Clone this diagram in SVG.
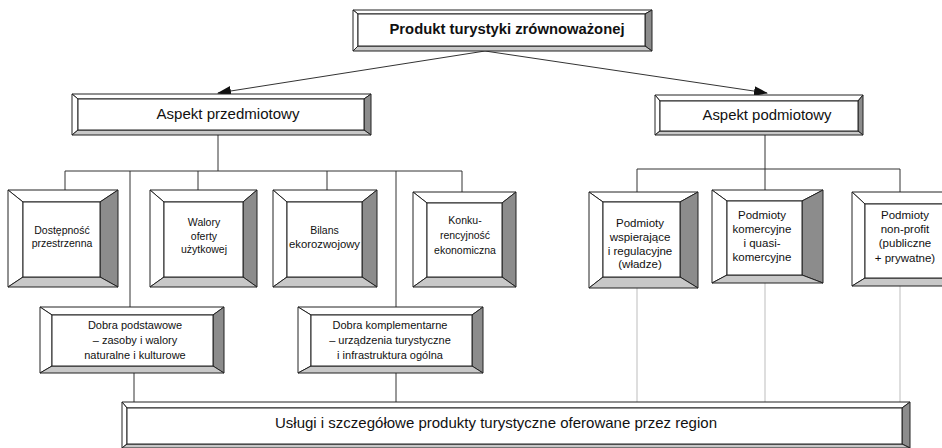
<svg xmlns="http://www.w3.org/2000/svg" width="942" height="448" viewBox="0 0 942 448">
<style>
.b polygon{stroke:#222;stroke-width:1;stroke-linejoin:miter}
.hl{fill:#fff}
.dk{fill:#8c8c8c}
.lt{fill:#c8c8c8}
.in{fill:#fff;stroke:#222;stroke-width:1}
text{font-family:"Liberation Sans",Arial,sans-serif;fill:#111;text-anchor:middle}
.s{font-size:11px}
.r{font-size:10.5px}
.m{font-size:11.5px}
.l{font-size:15px}
.t{font-size:14px;font-weight:bold}
.c line{stroke:#333;stroke-width:1}
.c line.g{stroke:#bdbdbd}
</style>
<defs>
<marker id="ah" markerWidth="14" markerHeight="10" refX="13" refY="5" orient="auto" markerUnits="userSpaceOnUse">
<path d="M0,0 L14,5 L0,10 Z" fill="#111"/>
</marker>
</defs>
<rect width="942" height="448" fill="#fff"/>

<g class="c" id="connectors">
<line x1="485" y1="51" x2="218" y2="93" marker-end="url(#ah)"/>
<line x1="485" y1="51" x2="767" y2="93" marker-end="url(#ah)"/>
<line x1="218" y1="135" x2="218" y2="171"/>
<line x1="65" y1="171" x2="462" y2="171"/>
<line x1="65" y1="171" x2="65" y2="190"/>
<line x1="130" y1="171" x2="130" y2="307"/>
<line x1="198" y1="171" x2="198" y2="190"/>
<line x1="327" y1="171" x2="327" y2="190"/>
<line x1="396" y1="171" x2="396" y2="307"/>
<line x1="462" y1="171" x2="462" y2="192"/>
<line x1="765" y1="135" x2="765" y2="169"/>
<line x1="637" y1="169" x2="900" y2="169"/>
<line x1="637" y1="169" x2="637" y2="192"/>
<line x1="765" y1="169" x2="765" y2="190"/>
<line x1="900" y1="169" x2="900" y2="192"/>
<line x1="134" y1="373" x2="134" y2="402"/>
<line x1="396" y1="373" x2="396" y2="402"/>
<line class="g" x1="637" y1="288" x2="637" y2="402"/>
<line class="g" x1="765" y1="283" x2="765" y2="402"/>
<line class="g" x1="900" y1="286" x2="900" y2="402"/>
</g>

<g id="top" class="b">
<polygon class="hl" points="353,10 652,10 645,14 358,14"/>
<polygon class="hl" points="353,10 358,14 358,46 353,51"/>
<polygon class="dk" points="652,10 652,51 645,46 645,14"/>
<polygon class="lt" points="353,51 358,46 645,46 652,51"/>
<rect class="in" x="358" y="14" width="287" height="32"/>
<text class="t" x="507" y="34" textLength="235" lengthAdjust="spacingAndGlyphs">Produkt turystyki zrównoważonej</text>
</g>

<g id="aspekt-przedmiotowy" class="b">
<polygon class="hl" points="72,94 371,94 364,99 78,99"/>
<polygon class="hl" points="72,94 78,99 78,130 72,135"/>
<polygon class="dk" points="371,94 371,135 364,130 364,99"/>
<polygon class="lt" points="72,135 78,130 364,130 371,135"/>
<rect class="in" x="78" y="99" width="286" height="31"/>
<text class="l" x="228" y="119" textLength="143" lengthAdjust="spacingAndGlyphs">Aspekt przedmiotowy</text>
</g>

<g id="aspekt-podmiotowy" class="b">
<polygon class="hl" points="655,95 863,95 858,101 660,101"/>
<polygon class="hl" points="655,95 660,101 660,131 655,135"/>
<polygon class="dk" points="863,95 863,135 858,131 858,101"/>
<polygon class="lt" points="655,135 660,131 858,131 863,135"/>
<rect class="in" x="660" y="101" width="198" height="30"/>
<text class="l" x="767" y="120" textLength="129" lengthAdjust="spacingAndGlyphs">Aspekt podmiotowy</text>
</g>

<g id="dostepnosc" class="b">
<polygon class="hl" points="8,190 118,190 100,202 23,202"/>
<polygon class="hl" points="8,190 23,202 23,277 8,287"/>
<polygon class="dk" points="118,190 118,287 100,277 100,202"/>
<polygon class="lt" points="8,287 23,277 100,277 118,287"/>
<rect class="in" x="23" y="202" width="77" height="75"/>
<text class="r" x="62" y="234">Dostępność</text>
<text class="r" x="62" y="247">przestrzenna</text>
</g>

<g id="walory" class="b">
<polygon class="hl" points="150,190 257,190 243,202 164,202"/>
<polygon class="hl" points="150,190 164,202 164,277 150,287"/>
<polygon class="dk" points="257,190 257,287 243,277 243,202"/>
<polygon class="lt" points="150,287 164,277 243,277 257,287"/>
<rect class="in" x="164" y="202" width="79" height="75"/>
<text class="r" x="204" y="226">Walory</text>
<text class="r" x="204" y="239.5">oferty</text>
<text class="r" x="204" y="253">użytkowej</text>
</g>

<g id="bilans" class="b">
<polygon class="hl" points="273,190 377,190 362,202 287,202"/>
<polygon class="hl" points="273,190 287,202 287,277 273,287"/>
<polygon class="dk" points="377,190 377,287 362,277 362,202"/>
<polygon class="lt" points="273,287 287,277 362,277 377,287"/>
<rect class="in" x="287" y="202" width="75" height="75"/>
<text class="r" x="324.5" y="234">Bilans</text>
<text class="r" x="324.5" y="248" textLength="71" lengthAdjust="spacingAndGlyphs">ekorozwojowy</text>
</g>

<g id="konkurencyjnosc" class="b">
<polygon class="hl" points="413,192 516,192 502,203 427,203"/>
<polygon class="hl" points="413,192 427,203 427,277 413,287"/>
<polygon class="dk" points="516,192 516,287 502,277 502,203"/>
<polygon class="lt" points="413,287 427,277 502,277 516,287"/>
<rect class="in" x="427" y="203" width="75" height="74"/>
<text class="r" x="465" y="224">Konku-</text>
<text class="r" x="465" y="239">rencyjność</text>
<text class="r" x="465" y="254">ekonomiczna</text>
</g>

<g id="wspierajace" class="b">
<polygon class="hl" points="589,192 698,192 680,202 603,202"/>
<polygon class="hl" points="589,192 603,202 603,277 589,288"/>
<polygon class="dk" points="698,192 698,288 680,277 680,202"/>
<polygon class="lt" points="589,288 603,277 680,277 698,288"/>
<rect class="in" x="603" y="202" width="77" height="75"/>
<text class="m" x="640" y="227">Podmioty</text>
<text class="m" x="640" y="241">wspierające</text>
<text class="m" x="640" y="254.5">i regulacyjne</text>
<text class="m" x="640" y="268">(władze)</text>
</g>

<g id="komercyjne" class="b">
<polygon class="hl" points="712,190 823,190 802,201 727,201"/>
<polygon class="hl" points="712,190 727,201 727,275 712,283"/>
<polygon class="dk" points="823,190 823,283 802,275 802,201"/>
<polygon class="lt" points="712,283 727,275 802,275 823,283"/>
<rect class="in" x="727" y="201" width="75" height="74"/>
<text class="m" x="762" y="219">Podmioty</text>
<text class="m" x="762" y="233">komercyjne</text>
<text class="m" x="762" y="247">i quasi-</text>
<text class="m" x="762" y="261">komercyjne</text>
</g>

<g id="non-profit" class="b">
<polygon class="hl" points="852,192 962,192 947,204 865,204"/>
<polygon class="hl" points="852,192 865,204 865,278 852,286"/>
<polygon class="dk" points="962,192 962,286 947,278 947,204"/>
<polygon class="lt" points="852,286 865,278 947,278 962,286"/>
<rect class="in" x="865" y="204" width="82" height="74"/>
<text class="m" x="905" y="219">Podmioty</text>
<text class="m" x="905" y="233">non-profit</text>
<text class="m" x="905" y="247">(publiczne</text>
<text class="m" x="905" y="262">+ prywatne)</text>
</g>

<g id="dobra-podstawowe" class="b">
<polygon class="hl" points="40,307 224,307 213,315 52,315"/>
<polygon class="hl" points="40,307 52,315 52,366 40,373"/>
<polygon class="dk" points="224,307 224,373 213,366 213,315"/>
<polygon class="lt" points="40,373 52,366 213,366 224,373"/>
<rect class="in" x="52" y="315" width="161" height="51"/>
<text class="s" x="135" y="329">Dobra podstawowe</text>
<text class="s" x="135" y="344">– zasoby i walory</text>
<text class="s" x="135" y="359">naturalne i kulturowe</text>
</g>

<g id="dobra-komplementarne" class="b">
<polygon class="hl" points="298,307 483,307 472,315 311,315"/>
<polygon class="hl" points="298,307 311,315 311,366 298,373"/>
<polygon class="dk" points="483,307 483,373 472,366 472,315"/>
<polygon class="lt" points="298,373 311,366 472,366 483,373"/>
<rect class="in" x="311" y="315" width="161" height="51"/>
<text class="s" x="390" y="329">Dobra komplementarne</text>
<text class="s" x="390" y="344">– urządzenia turystyczne</text>
<text class="s" x="390" y="359">i infrastruktura ogólna</text>
</g>

<g id="uslugi" class="b">
<polygon class="hl" points="122,402 910,402 902,408 127,408"/>
<polygon class="hl" points="122,402 127,408 127,444 122,448"/>
<polygon class="dk" points="910,402 910,448 902,444 902,408"/>
<polygon class="lt" points="122,448 127,444 902,444 910,448"/>
<rect class="in" x="127" y="408" width="775" height="36"/>
<text class="l" x="496" y="428" textLength="442" lengthAdjust="spacingAndGlyphs">Usługi i szczegółowe produkty turystyczne oferowane przez region</text>
</g>
</svg>
